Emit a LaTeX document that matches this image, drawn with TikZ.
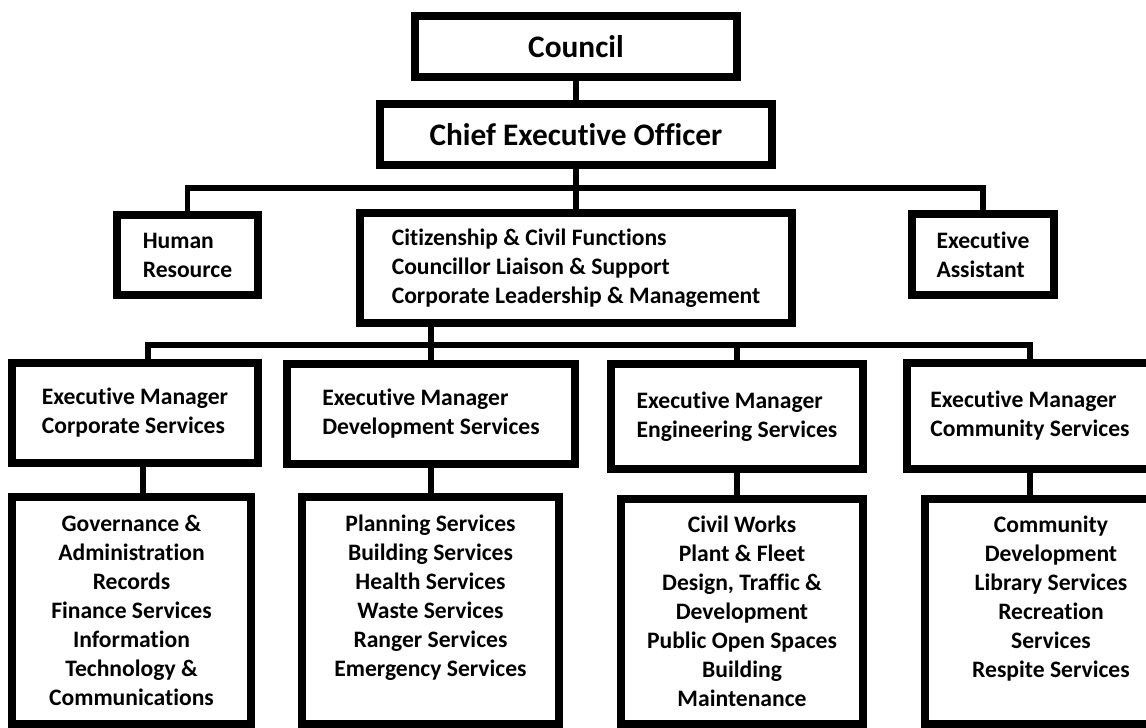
\documentclass[tikz,border=0pt]{standalone}
\usepackage{fontspec}
\setmainfont{Carlito}[Ligatures=NoCommon]
\usetikzlibrary{positioning}

\tikzset{
  box/.style={draw, line width=6pt, fill=white, inner sep=0pt,
    font=\bfseries\fontsize{17.7}{21.75}\selectfont},
  bigbox/.style={box, font=\bfseries\fontsize{23.5}{28}\selectfont},
  leftbox/.style={box, align=left},
  midbox/.style={box, align=center},
  link/.style={line width=4.2pt}
}

\begin{document}
\begin{tikzpicture}[x=0.75pt, y=-0.75pt]
  \useasboundingbox (0,0) rectangle (1146,728);
  \clip (0,0) rectangle (1146,728);

  % Nodes
  \node[bigbox, minimum width=241.5pt, minimum height=45.75pt] (council) at (576,46.5) {Council};
  \node[bigbox, minimum width=294pt, minimum height=45.75pt] (ceo) at (576,134.5) {Chief Executive Officer};

  \node[leftbox, minimum width=105.75pt, minimum height=60pt] (hr) at (187.5,255) {Human\\Resource};
  \node[leftbox, minimum width=324pt, minimum height=82.5pt] (functions) at (576,268)
    {Citizenship \& Civil Functions\\Councillor Liaison \& Support\\Corporate Leadership \& Management};
  \node[leftbox, minimum width=106.5pt, minimum height=60.75pt] (assist) at (983,254.5) {Executive\\Assistant};

  \node[leftbox, minimum width=184.5pt, minimum height=75pt] (emcorp) at (135,413) {Executive Manager\\Corporate Services};
  \node[leftbox, minimum width=216pt, minimum height=75pt] (emdev) at (431,413.5) {Executive Manager\\Development Services};
  \node[leftbox, minimum width=189pt, minimum height=78.75pt] (emeng) at (737,416.5) {Executive Manager\\Engineering Services};
  \node[leftbox, minimum width=184.5pt, minimum height=79.5pt] (emcomm) at (1030,416) {Executive Manager\\Community Services};

  \node[midbox, minimum width=179.25pt, minimum height=170.25pt] (corpsvc) at (131.5,610.5)
    {Governance \&\\Administration\\Records\\Finance Services\\Information\\Technology \&\\Communications};
  \node[midbox, minimum width=192.75pt, minimum height=170.25pt] (devsvc) at (430.5,610.5)
    {Planning Services\\Building Services\\Health Services\\Waste Services\\Ranger Services\\Emergency Services\\ \mbox{}};
  \node[midbox, minimum width=181.5pt, minimum height=168.75pt] (engsvc) at (742,611.5)
    {Civil Works\\Plant \& Fleet\\Design, Traffic \&\\Development\\Public Open Spaces\\Building\\Maintenance};
  \node[midbox, minimum width=189pt, minimum height=168.75pt] (commsvc) at (1051,611.5)
    {Community\\Development\\Library Services\\Recreation\\Services\\Respite Services\\ \mbox{}};

  \coordinate (bus1) at (576,188);
  \coordinate (bus2) at (431,345);

  % Edges
  \draw[link] (council.south) -- (ceo.north);
  \draw[link] (ceo.south) -- (functions.north);
  \draw[link] (hr.north) |- (bus1) -| (assist.north);
  \draw[link] (functions.south -| emdev.north) -- (emdev.north);
  \draw[link] ([xshift=9.75pt]emcorp.north) |- (bus2) -| (emcomm.north);
  \draw[link] (emeng.north) -- (emeng.north |- bus2);
  \draw[link] ([xshift=6pt]emcorp.south) -- ([xshift=6pt]emcorp.south |- corpsvc.north);
  \foreach \a/\b in {emdev/devsvc, emeng/engsvc, emcomm/commsvc}
    \draw[link] (\a.south) -- (\a.south |- \b.north);
\end{tikzpicture}
\end{document}
